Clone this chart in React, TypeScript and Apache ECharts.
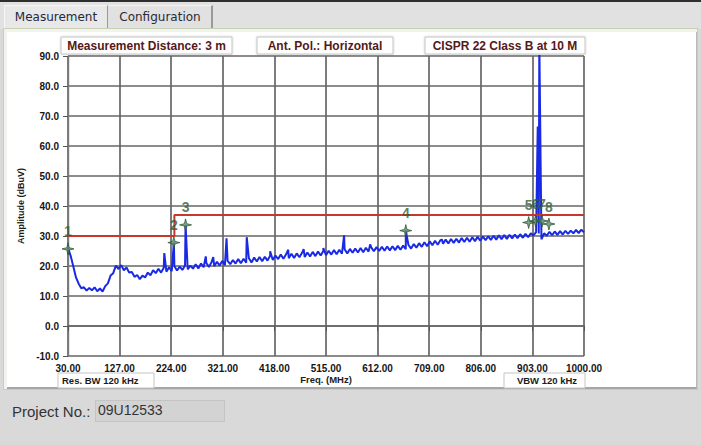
import React, { useEffect, useRef } from "react";
import * as echarts from "echarts";

// Sweep: 30 MHz .. 1000 MHz, one reading every 5 MHz (dBuV)
const traceStartMHz = 30;
const traceStepMHz = 5;
const traceAmplitude = [
  26.0, 23.4, 19.8, 16.2, 14.1, 12.6, 12.9, 11.8, 12.7, 11.9,
  12.9, 11.6, 12.5, 11.5, 13.3, 14.2, 16.8, 17.6, 20.1, 19.0,
  20.3, 18.6, 19.5, 17.8, 18.0, 16.4, 17.0, 15.6, 16.8, 16.2,
  17.8, 16.9, 18.6, 17.6, 19.1, 17.8, 19.4, 18.1, 19.6, 18.3,
  19.9, 18.5, 19.8, 18.7, 20.2, 18.9, 20.1, 19.1, 20.6, 19.2,
  20.8, 19.6, 21.0, 19.7, 21.3, 19.9, 21.4, 20.2, 21.7, 20.3,
  21.7, 20.6, 22.0, 20.8, 22.3, 20.9, 22.4, 21.1, 22.6, 21.2,
  22.8, 21.5, 23.0, 21.6, 23.1, 21.8, 23.4, 22.0, 23.5, 22.3,
  23.8, 22.4, 23.9, 22.6, 24.1, 22.7, 24.2, 22.9, 24.4, 23.0,
  24.5, 23.2, 24.7, 23.3, 24.8, 23.5, 25.0, 23.6, 25.1, 23.8,
  25.3, 23.9, 25.4, 24.1, 25.6, 24.2, 25.7, 24.4, 25.8, 24.5,
  26.0, 24.6, 26.1, 24.8, 26.2, 24.9, 26.3, 25.0, 26.4, 25.1,
  26.5, 25.2, 26.6, 25.3, 26.7, 25.4, 26.8, 25.6, 27.0, 25.8,
  27.3, 26.1, 27.6, 26.4, 27.9, 26.6, 28.2, 26.9, 28.4, 27.1,
  28.6, 27.4, 28.8, 27.5, 29.0, 27.7, 29.1, 27.8, 29.3, 28.0,
  29.4, 28.1, 29.6, 28.3, 29.7, 28.4, 29.8, 28.6, 29.9, 28.7,
  30.1, 28.8, 30.2, 28.9, 30.3, 29.0, 30.4, 29.2, 30.5, 29.3,
  30.6, 29.4, 30.7, 29.6, 30.9, 30.2, 31.3, 30.8, 28.9, 30.9,
  30.1, 31.4, 30.3, 31.5, 30.4, 31.6, 30.5, 31.7, 30.7, 31.8,
  30.9, 32.0, 31.0, 32.1, 31.2,
];

// Narrow emissions riding on the noise floor
const spikeFreqs = [211, 229, 251, 289, 303, 328, 366, 410, 444, 473, 510, 549, 598, 665, 733, 913, 916];
const spikePeaks = [24.3, 27.8, 33.7, 23.2, 23.0, 29.2, 29.6, 24.9, 25.4, 25.6, 26.0, 30.2, 27.2, 31.8, 28.8, 66.5, 95.0];

// CISPR 22 Class B limit at 10 m (stepped)
const limitFreqs = [30, 230, 230, 1000];
const limitLevels = [30, 30, 37, 37];

// Peak markers
const markerLabels = ["1", "2", "3", "4", "5", "6", "7", "8"];
const markerFreqs = [30, 229, 251, 665, 896, 909, 921, 934];
const markerLevels = [25.7, 27.8, 33.7, 31.8, 34.5, 35.0, 35.0, 34.0];

const xTickLabels = ["30.00", "127.00", "224.00", "321.00", "418.00", "515.00", "612.00", "709.00", "806.00", "903.00", "1000.00"];
const yTickLabels = ["-10.0", "0.0", "10.0", "20.0", "30.0", "40.0", "50.0", "60.0", "70.0", "80.0", "90.0"];

const headerTexts = ["Measurement Distance: 3 m", "Ant. Pol.: Horizontal", "CISPR 22 Class B at 10 M"];
const xAxisTitle = "Freq. (MHz)";
const yAxisTitle = "Amplitude (dBuV)";
const rbwText = "Res. BW 120 kHz";
const vbwText = "VBW 120 kHz";

const FONT = "'Liberation Sans', Arial, sans-serif";

export default function App() {
  const ref = useRef<HTMLDivElement>(null);

  useEffect(() => {
    if (!ref.current) return;
    const chart = echarts.init(ref.current, null, { renderer: "svg" });

    const trace: [number, number][] = traceAmplitude.map((v, i) => [traceStartMHz + i * traceStepMHz, v]);
    spikeFreqs.forEach((f, i) => trace.push([f, spikePeaks[i]]));
    trace.sort((a, b) => a[0] - b[0]);

    const limit = limitFreqs.map((f, i) => [f, limitLevels[i]]);
    const markers = markerFreqs.map((f, i) => [f, markerLevels[i]]);

    const gridLine = { color: "#666666", width: 1.7 };
    const tickFont = { fontFamily: FONT, fontSize: 10, fontWeight: "bold" as const, color: "#161616" };
    const headerBoxes = [
      { x: 61, w: 171 },
      { x: 257, w: 136 },
      { x: 425, w: 160 },
    ];

    const graphic: any[] = [];
    headerBoxes.forEach((b, i) => {
      graphic.push({
        type: "rect",
        shape: { x: b.x, y: 37, width: b.w, height: 17 },
        style: { fill: "#ffffff", stroke: "#c4c4c4", lineWidth: 1, shadowBlur: 2, shadowColor: "rgba(0,0,0,0.18)" },
        z: 10,
      });
      graphic.push({
        type: "text",
        x: b.x + b.w / 2,
        y: 45.5,
        style: {
          text: headerTexts[i],
          fill: "#561818",
          font: `bold 12px ${FONT}`,
          textAlign: "center",
          textVerticalAlign: "middle",
        },
        z: 11,
      });
    });
    graphic.push(
      {
        type: "rect",
        shape: { x: 58, y: 373, width: 96, height: 15 },
        style: { fill: "#ffffff", stroke: "#c4c4c4", lineWidth: 1 },
        z: 10,
      },
      {
        type: "text",
        x: 62,
        y: 380.5,
        style: { text: rbwText, fill: "#1c1c1c", font: `bold 9.5px ${FONT}`, textAlign: "left", textVerticalAlign: "middle" },
        z: 11,
      },
      {
        type: "rect",
        shape: { x: 504, y: 373, width: 81, height: 15 },
        style: { fill: "#ffffff", stroke: "#c4c4c4", lineWidth: 1 },
        z: 10,
      },
      {
        type: "text",
        x: 547,
        y: 380.5,
        style: { text: vbwText, fill: "#1c1c1c", font: `bold 9.5px ${FONT}`, textAlign: "center", textVerticalAlign: "middle" },
        z: 11,
      },
      {
        type: "text",
        x: 326,
        y: 379.5,
        style: { text: xAxisTitle, fill: "#1c1c1c", font: `bold 9.5px ${FONT}`, textAlign: "center", textVerticalAlign: "middle" },
        z: 11,
      }
    );

    chart.setOption({
      animation: false,
      backgroundColor: "transparent",
      grid: { left: 68, top: 56, width: 516, height: 300, containLabel: false },
      xAxis: [
        {
          type: "value",
          min: 0,
          max: 970,
          interval: 97,
          position: "bottom",
          axisLine: { show: true, lineStyle: { color: "#666666", width: 1.7 } },
          axisTick: { show: true, length: 5, lineStyle: { color: "#555", width: 1 } },
          axisLabel: {
            ...tickFont,
            margin: 7,
            formatter: (v: number) => xTickLabels[Math.round(v / 97)] ?? "",
          },
          splitLine: { show: true, lineStyle: gridLine },
        },
        { type: "value", min: 30, max: 1000, show: false },
      ],
      yAxis: {
        type: "value",
        min: -10,
        max: 90,
        interval: 10,
        offset: 5,
        axisLine: { show: true, lineStyle: { color: "#7a7a7a", width: 1.4 } },
        axisTick: { show: true, length: 5, lineStyle: { color: "#555", width: 1 } },
        axisLabel: {
          ...tickFont,
          margin: 4,
          formatter: (v: number) => yTickLabels[Math.round((v + 10) / 10)] ?? "",
        },
        splitLine: { show: true, lineStyle: gridLine },
        name: yAxisTitle,
        nameLocation: "middle",
        nameRotate: 90,
        nameGap: 32,
        nameTextStyle: { fontFamily: FONT, fontSize: 9, fontWeight: "bold", color: "#1c1c1c" },
      },
      graphic,
      series: [
        {
          type: "line",
          xAxisIndex: 1,
          data: trace,
          showSymbol: false,
          symbol: "none",
          lineStyle: { color: "#1a2ae4", width: 2 },
          z: 3,
        },
        {
          type: "line",
          xAxisIndex: 1,
          data: limit,
          showSymbol: false,
          symbol: "none",
          lineStyle: { color: "#c8372b", width: 2 },
          z: 4,
        },
        {
          type: "scatter",
          xAxisIndex: 1,
          data: markers,
          clip: false,
          symbol: "path://M5 0L6 4L10 5L6 6L5 10L4 6L0 5L4 4Z",
          symbolSize: 12,
          itemStyle: { color: "#5f8f68", borderColor: "#24502f", borderWidth: 0.9 },
          label: {
            show: true,
            position: "top",
            distance: 4,
            formatter: (p: any) => markerLabels[p.dataIndex],
            color: "#2f5e3a",
            fontFamily: FONT,
            fontSize: 14,
            fontWeight: "bold",
          },
          labelLayout: { hideOverlap: false },
          z: 6,
        },
      ],
    });

    return () => chart.dispose();
  }, []);

  return (
    <div
      style={{
        position: "fixed",
        left: 0,
        top: 0,
        width: 701,
        height: 445,
        background: "#d9d9d9",
        overflow: "hidden",
        fontFamily: FONT,
      }}
    >
      <div style={{ position: "absolute", left: 0, top: 0, width: 701, height: 2, background: "#2e2e2e" }} />
      <div style={{ position: "absolute", left: 0, top: 2, width: 701, height: 27, background: "#e1e1e1" }} />
      <div
        style={{
          position: "absolute",
          left: 4,
          top: 5,
          width: 104,
          height: 24,
          background: "#e8e8e8",
          borderLeft: "1px solid #f6f6f6",
          borderTop: "1px solid #f6f6f6",
          borderRight: "1px solid #9a9a9a",
          boxSizing: "border-box",
          fontFamily: "'DejaVu Sans', sans-serif",
          fontSize: 12,
          color: "#1f2940",
          textAlign: "center",
          lineHeight: "22px",
        }}
      >
        Measurement
      </div>
      <div
        style={{
          position: "absolute",
          left: 109,
          top: 5,
          width: 104,
          height: 23,
          background: "#e1e1e1",
          borderTop: "1px solid #f3f3f3",
          borderRight: "2px solid #9a9a9a",
          boxSizing: "border-box",
          fontFamily: "'DejaVu Sans', sans-serif",
          fontSize: 12,
          color: "#2b2b33",
          textAlign: "center",
          lineHeight: "22px",
        }}
      >
        Configuration
      </div>
      <div
        style={{
          position: "absolute",
          left: 3,
          top: 28,
          width: 695,
          height: 362,
          background: "#f2f3ee",
          border: "1px solid #c6d0b3",
          boxSizing: "border-box",
        }}
      />
      <div
        style={{
          position: "absolute",
          left: 7,
          top: 32,
          width: 690,
          height: 357,
          background: "#ffffff",
          borderRight: "1px solid #b9b9b9",
          borderBottom: "2px solid #a6a6a6",
          boxSizing: "border-box",
        }}
      />
      <div ref={ref} style={{ position: "absolute", left: 0, top: 0, width: 701, height: 445 }} />
      <div
        style={{
          position: "absolute",
          left: 12,
          top: 402,
          fontSize: 15,
          color: "#333",
          lineHeight: "20px",
          zIndex: 2,
        }}
      >
        Project No.:
      </div>
      <div
        style={{
          position: "absolute",
          left: 95,
          top: 400,
          width: 130,
          height: 22,
          background: "#d3d3d3",
          border: "1px solid #c4c4c4",
          boxSizing: "border-box",
          fontSize: 14,
          color: "#333",
          lineHeight: "19px",
          paddingLeft: 2,
          zIndex: 2,
        }}
      >
        09U12533
      </div>
    </div>
  );
}
